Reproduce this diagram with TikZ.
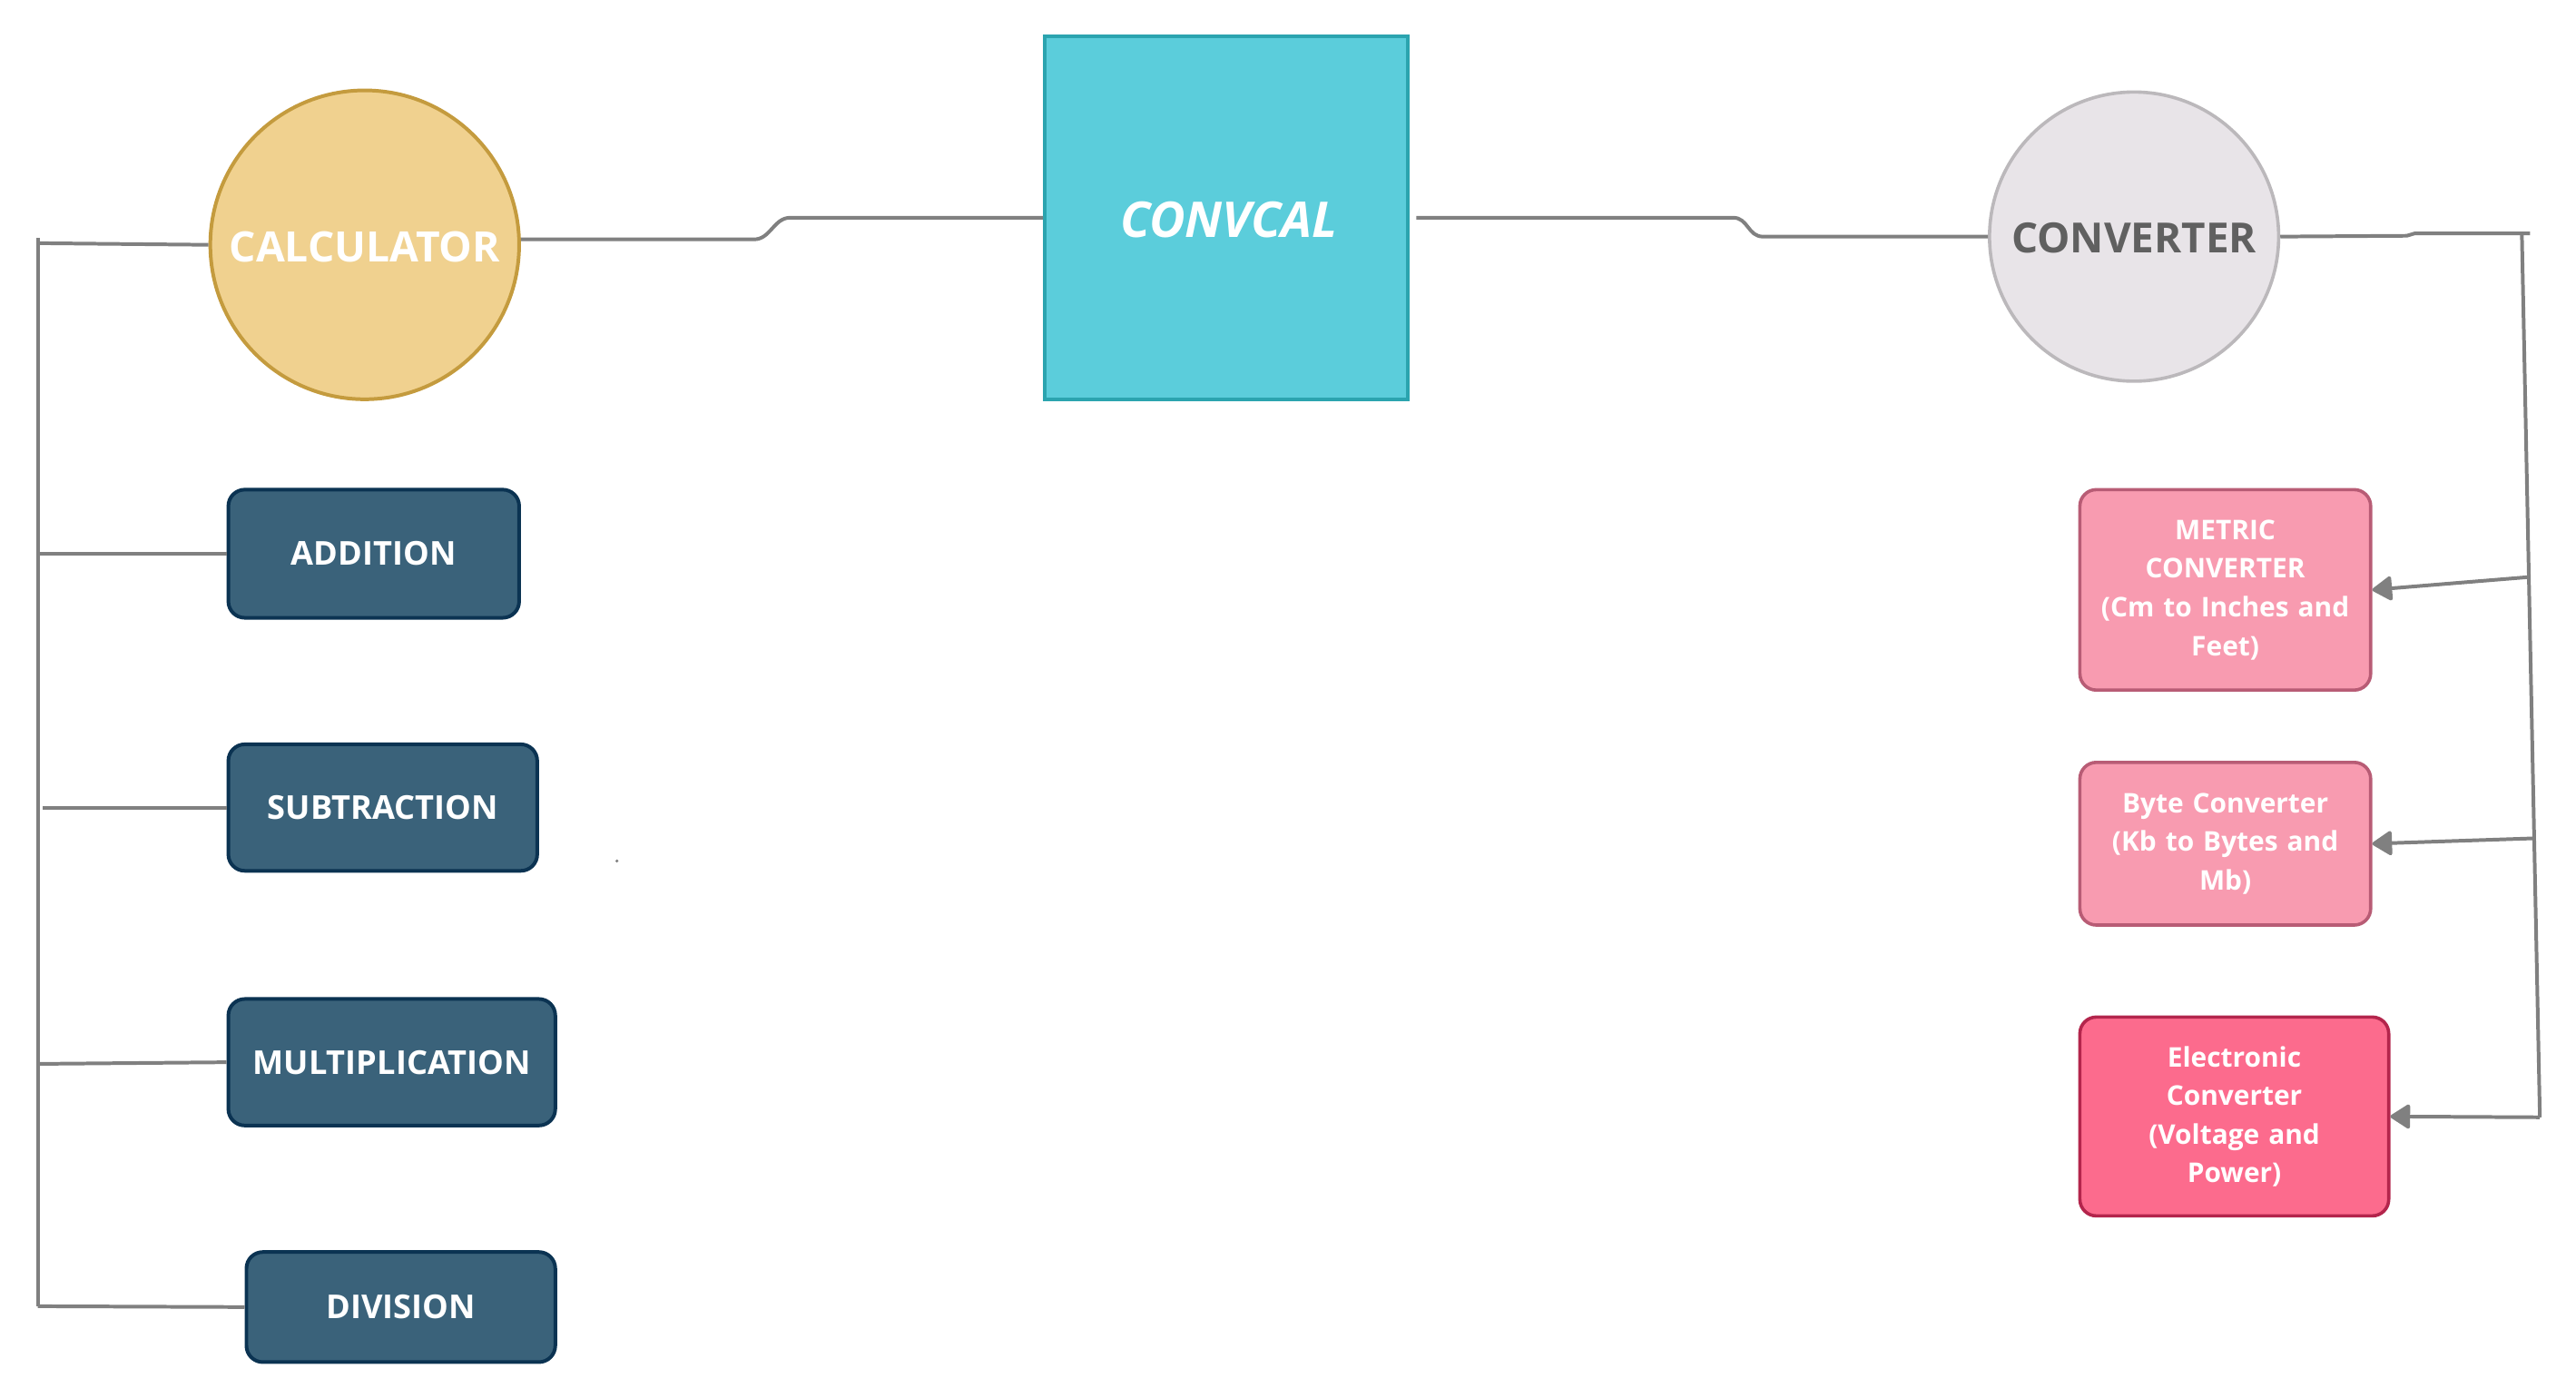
\documentclass[tikz,border=0pt]{standalone}
\usepackage{fontspec}
\setmainfont{Open Sans}
\usetikzlibrary{arrows.meta,calc}
\definecolor{calcfill}{HTML}{F0D18F}
\definecolor{calcdraw}{HTML}{C49B3E}
\definecolor{cvfill}{HTML}{5BCDDB}
\definecolor{cvdraw}{HTML}{2BA4AF}
\definecolor{convfill}{HTML}{E8E4E8}
\definecolor{convdraw}{HTML}{BBB8BB}
\definecolor{convtext}{HTML}{606060}
\definecolor{opfill}{HTML}{3A627A}
\definecolor{opdraw}{HTML}{0B3352}
\definecolor{pkfill}{HTML}{F89BB0}
\definecolor{pkdraw}{HTML}{B85C75}
\definecolor{pk2fill}{HTML}{FC6B8D}
\definecolor{pk2draw}{HTML}{B3254C}
\definecolor{linegray}{HTML}{808080}
\tikzset{
  conn/.style={draw=linegray, line width=2.2pt, line join=round},
  arr/.style={conn, -{Triangle[length=13pt,width=16pt,round]}},
  opbox/.style={draw=opdraw, fill=opfill, line width=2.2pt, rounded corners=10pt,
    inner sep=0pt, text=white, font=\bfseries\fontsize{20}{24}\selectfont},
  pkbox/.style={draw=pkdraw, fill=pkfill, line width=2pt, rounded corners=10pt,
    inner sep=0pt, text=white, align=center,
    font=\bfseries\fontsize{16.5}{23.5}\selectfont},
}
\begin{document}
\begin{tikzpicture}[x=1pt,y=-1pt]
\useasboundingbox (0,0) rectangle (1568,850.8);
% main nodes
\node[circle, draw=calcdraw, fill=calcfill, line width=2.2pt, minimum size=188pt, inner sep=0pt] (calc) at (222,149) {};
\node[text=white, font=\bfseries\fontsize{25.5}{30}\selectfont] (calctext) at (222,150) {CALCULATOR};
\node[rectangle, draw=cvdraw, fill=cvfill, line width=2.2pt, minimum width=221pt, minimum height=221pt,
  inner sep=0pt] (convcal) at (746.5,132.5) {};
\node[text=white, font=\bfseries\itshape\fontsize{30}{34}\selectfont] (convcaltext) at (748,134) {CONVCAL};
\node[circle, draw=convdraw, fill=convfill, line width=2pt, minimum size=176pt, inner sep=0pt] (conv) at (1299,144) {};
\node[text=convtext, font=\bfseries\fontsize{25.3}{30}\selectfont] (convtext2) at (1299,145) {CONVERTER};
% operation boxes
\node[opbox, minimum width=177pt, minimum height=78pt] (add) at (227.5,337) {ADDITION};
\node[opbox, minimum width=188pt, minimum height=77pt] (sub) at (233,491.5) {SUBTRACTION};
\node[opbox, minimum width=199pt, minimum height=77pt] (mul) at (238.5,646.5) {MULTIPLICATION};
\node[opbox, minimum width=188pt, minimum height=67pt] (div) at (244,795.5) {DIVISION};
% converter boxes
\node[pkbox, minimum width=177pt, minimum height=122pt, text width=172pt] (metric) at (1354.5,359)
  {METRIC\\CONVERTER\\(Cm to Inches and\\Feet)};
\node[pkbox, minimum width=177pt, minimum height=99pt, text width=172pt] (byte) at (1354.5,513.5)
  {Byte Converter\\(Kb to Bytes and\\Mb)};
\node[pkbox, draw=pk2draw, fill=pk2fill, minimum width=188pt, minimum height=121pt, text width=182pt] (elec) at (1360,679.5)
  {Electronic\\Converter\\(Voltage and\\Power)};
% left trunk
\coordinate (lt) at (23,148);
\coordinate (lb) at (23,795);
\draw[conn] (lt) -- (calc.west);
\draw[conn] (23,145) -- (lb);
\draw[conn] (add.west -| lt) -- (add.west);
\draw[conn] ($(sub.west -| lt)+(3,0)$) -- (sub.west);
\draw[conn] ($(mul.west -| lt)+(0,1)$) -- (mul.west);
\draw[conn] (lb) -- (div.west);
% top connectors
\coordinate (j1) at (459,0);
\coordinate (j2) at (481,0);
\draw[conn] (calc.2) -- (calc.2 -| j1) .. controls +(10,0) and +(-10,0) .. (convcal.west -| j2) -- (convcal.west);
\coordinate (j3) at (1055,0);
\coordinate (j4) at (1073,0);
\draw[conn] ($(convcal.east)+(4,0)$) -- (convcal.east -| j3) .. controls +(9,0) and +(-9,0) .. (conv.west -| j4) -- (conv.west);
% right trunk
\coordinate (rt) at (1535,141);
\coordinate (rb) at (1546,680);
\coordinate (rm) at ($(rt)!0.39!(rb)$);
\coordinate (rbt) at ($(rt)!0.685!(rb)$);
\draw[conn] (conv.east) -- (1465,143.5) -- (1470,142) -- (1540,142);
\draw[conn] (rt) -- (rb);
\draw[arr] (rm) -- (metric.east);
\draw[arr] (rbt) -- (byte.east);
\draw[arr] (rb) -- (elec.east);
% stray dot
\fill[linegray] (375.5,524) circle (1pt);
\end{tikzpicture}
\end{document}
